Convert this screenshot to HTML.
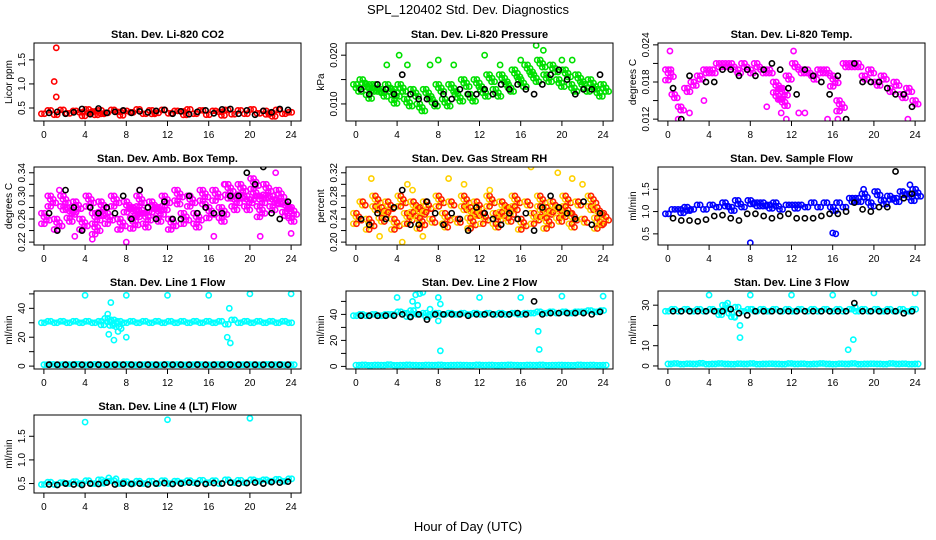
<!DOCTYPE html>
<html><head><meta charset="utf-8">
<style>
html,body{margin:0;padding:0;background:#fff;}
svg{display:block;font-family:"Liberation Sans",sans-serif;}
</style></head>
<body>
<svg id="chart" width="936" height="540" viewBox="0 0 936 540">
<rect x="0" y="0" width="936" height="540" fill="#fff"/>
<text x="468" y="14" text-anchor="middle" font-size="13">SPL_120402  Std. Dev. Diagnostics</text>
<text x="468" y="531" text-anchor="middle" font-size="13">Hour of Day (UTC)</text>
</svg>
<script>
const xTicks = [0,4,8,12,16,20,24];
const blackTimes = [0.5,1.3,2.1,2.9,3.7,4.5,5.3,6.1,6.9,7.7,8.5,9.3,10.1,10.9,11.7,12.5,13.3,14.1,14.9,15.7,16.5,17.3,18.1,18.9,19.7,20.5,21.3,22.1,22.9,23.7];
const panelTitles = ["Stan. Dev. Li-820 CO2","Stan. Dev. Li-820 Pressure","Stan. Dev. Li-820 Temp.","Stan. Dev. Amb. Box Temp.","Stan. Dev. Gas Stream RH","Stan. Dev. Sample Flow","Stan. Dev. Line 1 Flow","Stan. Dev. Line 2 Flow","Stan. Dev. Line 3 Flow","Stan. Dev. Line 4 (LT) Flow"];
const yLabels = ["Licor ppm","kPa","degrees C","degrees C","percent","ml/min","ml/min","ml/min","ml/min","ml/min"];
const yRanges = [[0.23,1.85],[0.0065,0.0225],[0.0117,0.0243],[0.215,0.35],[0.195,0.33],[0.25,2.0],[-2,52],[-2,58],[-1.5,37],[0.3,1.95]];
const yTickVals = [[0.5,1.0,1.5],[0.010,0.015,0.020],[0.012,0.015,0.018,0.021,0.024],[0.22,0.24,0.26,0.28,0.30,0.32,0.34],[0.20,0.22,0.24,0.26,0.28,0.30,0.32],[0.5,1.0,1.5],[0,10,20,30,40,50],[0,10,20,30,40,50],[0,10,20,30],[0.5,1.0,1.5]];
const yTickLabels = [["0.5","1.0","1.5"],["0.010","","0.020"],["0.012","","0.018","","0.024"],["0.22","","0.26","","0.30","","0.34"],["0.20","","0.24","","0.28","","0.32"],["0.5","1.0","1.5"],["0","","20","","40",""],["0","","20","","40",""],["0","10","","30"],["0.5","1.0","1.5"]];
const colorsA = ["#ff0000","#00e000","#ff00ff","#ff00ff","#ffd000","#0000ff","#00ffff","#00ffff","#00ffff","#00ffff"];
const colorsB = ["#ff0000","#00e000","#ff00ff","#ff00ff","#ff2000","#0000ff","#00ffff","#00ffff","#00ffff","#00ffff"];

const seriesA = [
[0.38,0.40,0.36,0.42,0.39,0.37,0.41,0.38,0.43,0.36,0.40,0.39,0.42,0.37,0.41,0.44,0.38,0.36,0.40,0.42,0.39,0.37,0.43,0.40,0.38,0.41,0.36,0.39,0.42,0.40,0.37,0.41,0.38,0.43,0.39,0.36,0.40,0.42,0.38,0.41],
[0.014,0.013,0.014,0.012,0.013,0.012,0.013,0.012,0.011,0.011,0.010,0.011,0.011,0.012,0.011,0.012,0.012,0.013,0.012,0.013,0.013,0.014,0.013,0.014,0.014,0.015,0.015,0.016,0.016,0.017,0.016,0.016,0.015,0.015,0.014,0.014,0.014,0.013,0.013,0.012],
[0.018,0.016,0.014,0.017,0.018,0.019,0.019,0.020,0.020,0.021,0.020,0.020,0.020,0.020,0.020,0.019,0.020,0.018,0.017,0.019,0.020,0.020,0.019,0.019,0.020,0.019,0.019,0.015,0.021,0.021,0.020,0.019,0.019,0.018,0.018,0.017,0.017,0.016,0.016,0.015],
[0.27,0.28,0.26,0.27,0.28,0.27,0.26,0.28,0.27,0.26,0.27,0.28,0.26,0.27,0.28,0.26,0.27,0.27,0.28,0.27,0.26,0.28,0.27,0.28,0.27,0.28,0.28,0.29,0.28,0.29,0.30,0.29,0.30,0.29,0.30,0.29,0.30,0.28,0.29,0.28],
[0.25,0.26,0.24,0.25,0.26,0.25,0.24,0.26,0.25,0.24,0.26,0.25,0.24,0.26,0.25,0.26,0.24,0.25,0.26,0.24,0.25,0.26,0.25,0.24,0.26,0.25,0.24,0.26,0.25,0.24,0.26,0.25,0.26,0.24,0.25,0.26,0.24,0.25,0.26,0.25],
[0.95,1.0,1.05,1.0,1.05,1.1,1.05,1.1,1.1,1.05,1.1,1.15,1.1,1.15,1.2,1.1,1.15,1.1,1.05,1.1,1.15,1.1,1.1,1.15,1.1,1.15,1.1,1.15,1.1,1.2,1.3,1.25,1.2,1.3,1.25,1.2,1.3,1.35,1.4,1.3],
[30,30,30,30,30,30,30,30,30,31,28,32,29,30,30,30,30,30,30,30,30,30,30,30,30,30,30,30,30,29,31,30,30,30,30,30,30,30,30,30],
[39,39,39,39,39,39,40,40,41,39,40,38,40,40,40,40,40,40,40,40,40,40,40,40,40,40,40,41,41,40,41,41,41,41,41,41,42,42,42,42],
[27,27,27,27,27,27,27,27,27,28,26,29,27,27,27,27,27,27,27,27,27,27,27,27,27,27,27,27,27,27,27,27,27,27,27,27,27,27,27,27],
[0.48,0.5,0.48,0.5,0.5,0.48,0.5,0.52,0.5,0.5,0.55,0.5,0.5,0.52,0.5,0.5,0.5,0.5,0.5,0.52,0.5,0.5,0.52,0.5,0.52,0.5,0.52,0.52,0.5,0.52,0.52,0.55,0.52,0.52,0.55,0.52,0.55,0.55,0.55,0.55]
];
const seriesB = [
[0.33,0.45,0.34,0.46,0.35,0.44,0.33,0.47,0.34,0.45,0.35,0.46,0.33,0.44,0.36,0.47,0.34,0.45,0.33,0.46,0.35,0.44,0.34,0.47,0.33,0.45,0.36,0.44,0.34,0.46,0.35,0.45,0.33,0.47,0.34,0.44,0.30,0.46,0.33,0.34],
[0.012,0.015,0.011,0.014,0.011,0.014,0.010,0.014,0.009,0.013,0.008,0.013,0.009,0.014,0.009,0.014,0.010,0.015,0.010,0.015,0.011,0.016,0.011,0.016,0.012,0.017,0.013,0.018,0.014,0.019,0.014,0.018,0.013,0.017,0.012,0.016,0.012,0.015,0.011,0.014],
[0.020,0.015,0.013,0.016,0.017,0.018,0.020,0.019,0.021,0.020,0.021,0.019,0.021,0.019,0.021,0.020,0.019,0.015,0.014,0.018,0.021,0.019,0.020,0.018,0.019,0.020,0.017,0.013,0.020,0.020,0.021,0.018,0.020,0.017,0.019,0.016,0.018,0.015,0.017,0.014],
[0.25,0.30,0.24,0.30,0.25,0.29,0.24,0.30,0.23,0.29,0.25,0.30,0.24,0.29,0.24,0.30,0.24,0.29,0.25,0.30,0.24,0.31,0.25,0.30,0.24,0.31,0.26,0.31,0.25,0.32,0.27,0.32,0.27,0.33,0.26,0.32,0.27,0.31,0.26,0.25],
[0.23,0.27,0.22,0.28,0.23,0.27,0.22,0.28,0.23,0.27,0.22,0.27,0.23,0.28,0.22,0.27,0.23,0.28,0.22,0.27,0.23,0.28,0.22,0.27,0.23,0.28,0.22,0.27,0.23,0.28,0.22,0.27,0.23,0.28,0.22,0.27,0.23,0.28,0.22,0.23],
[0.9,1.05,0.95,1.1,1.0,1.15,1.0,1.15,1.05,1.2,1.0,1.25,1.05,1.25,1.05,1.2,1.05,1.2,1.0,1.15,1.05,1.15,1.05,1.2,1.05,1.2,1.0,1.2,1.05,1.3,1.15,1.4,1.1,1.45,1.15,1.35,1.2,1.45,1.2,1.5],
[29,31,29,31,29,31,29,31,30,27,33,26,31,29,31,29,31,29,31,29,31,29,31,29,31,29,31,29,31,28,32,29,31,29,31,29,31,29,31,30],
[38,40,38,40,38,40,38,42,37,43,39,41,39,41,39,41,39,41,39,41,39,41,39,41,39,41,39,41,40,42,39,42,40,42,40,42,41,43,41,43],
[26,28,26,28,26,28,26,28,25,30,24,28,26,28,26,28,26,28,26,28,26,28,26,28,26,28,26,28,26,28,26,28,26,28,26,28,26,28,26,28],
[0.45,0.53,0.46,0.52,0.45,0.54,0.45,0.56,0.46,0.58,0.48,0.56,0.46,0.54,0.47,0.55,0.46,0.55,0.47,0.56,0.47,0.55,0.47,0.56,0.48,0.57,0.48,0.56,0.48,0.58,0.49,0.57,0.49,0.58,0.49,0.58,0.5,0.59,0.5,0.6]
];
const lowCyan = [1,1.2,0.9,1.1,1,1.3,0.9,1,1.2,1,0.9,1.1,1,1.2,0.9,1,1.1,1,0.9,1.2,1,1.1,0.9,1,1.2,1,0.9,1.1,1,1.2,0.9,1,1.1,1,0.9,1.2,1,1.1,0.9,1];
const outlierTimes = [
[1.2,1.0,1.2],
[4.2,5.0,7.2,8.0,9.5,12.5,14.0,16.0,17.5,18.2,20.0,21.0,3.0],
[0.2,0.3,1.0,2.1,3.5,11.0,11.5,12.7,13.3,14.0,15.5,16.5,17.0,9.6,23.3,12.2],
[1.5,3.0,4.7,8.0,9.3,16.5,17.5,21.0,22.5,24.0],
[1.5,2.3,4.5,5.0,6.5,9.0,10.5,13.0,17.0,19.6,21.0,22.0,5.5],
[8.0,16.0,16.3,19.0,23.5],
[4,6.2,6.5,6.3,6.8,7.2,7.5,8,8,12,16,17.8,18,18.1,20,24],
[4,5.5,5.8,6.2,6.5,6,8,8.2,8,8.2,12,16,17.7,17.8,20,24,7.2],
[4,5.8,6.0,6.5,7,7.0,8,8.2,12,16,17.5,18,18.2,20,24],
[4,12,20,6.3,7]
];
const outlierValues = [
[1.75,1.05,0.73],
[0.020,0.018,0.018,0.019,0.018,0.020,0.018,0.019,0.022,0.021,0.019,0.019,0.018],
[0.023,0.020,0.012,0.013,0.015,0.013,0.012,0.013,0.013,0.011,0.012,0.012,0.011,0.014,0.012,0.023],
[0.31,0.23,0.225,0.22,0.31,0.23,0.32,0.23,0.34,0.235],
[0.31,0.21,0.20,0.30,0.21,0.31,0.30,0.29,0.33,0.32,0.31,0.30,0.29],
[0.3,0.52,0.5,1.5,1.6],
[49,36,44,22,18,24,26,49,20,49,49,20,40,16,50,50],
[53,50,55,56,57,47,53,48,35,12,53,53,27,13,54,54,44],
[35,31,28.5,24,20,14,35,28,35,35,8,13,29,36,36],
[1.8,1.85,1.88,0.62,0.6]
];
const blackValues = [
[0.40,0.42,0.38,0.41,0.48,0.37,0.49,0.40,0.42,0.45,0.40,0.43,0.41,0.44,0.46,0.38,0.43,0.37,0.42,0.45,0.39,0.47,0.48,0.38,0.45,0.36,0.44,0.41,0.48,0.46],
[0.013,0.012,0.014,0.013,0.012,0.016,0.012,0.011,0.011,0.010,0.012,0.011,0.013,0.012,0.012,0.013,0.012,0.014,0.013,0.014,0.013,0.012,0.014,0.016,0.017,0.015,0.012,0.013,0.013,0.016],
[0.017,0.012,0.019,0.011,0.018,0.018,0.020,0.020,0.019,0.020,0.019,0.020,0.021,0.020,0.017,0.016,0.020,0.019,0.018,0.016,0.019,0.012,0.021,0.018,0.018,0.018,0.017,0.016,0.016,0.014],
[0.27,0.24,0.31,0.28,0.24,0.28,0.27,0.28,0.27,0.30,0.26,0.31,0.28,0.26,0.29,0.26,0.26,0.30,0.27,0.28,0.27,0.27,0.30,0.30,0.34,0.32,0.35,0.27,0.26,0.29],
[0.24,0.23,0.25,0.24,0.26,0.29,0.23,0.23,0.27,0.25,0.23,0.25,0.24,0.22,0.26,0.25,0.24,0.23,0.25,0.24,0.25,0.22,0.26,0.28,0.26,0.25,0.24,0.27,0.23,0.25],
[0.85,0.8,0.8,0.78,0.82,0.9,0.92,0.85,0.8,0.95,0.95,0.9,0.85,0.9,0.95,0.85,0.85,0.85,0.9,0.95,0.95,1.0,1.2,1.05,1.0,1.1,1.1,1.9,1.3,1.4],
[1,1,1,1,1,1,1,1,1,1,1,1,1,1,1,1,1,1,1,1,1,1,1,1,1,1,1,1,1,1],
[39,39,39,39,39,40,38,40,36,40,40,40,40,39,40,40,40,40,40,41,40,50,40,41,41,41,41,41,40,42],
[27,27,27,27,27,27,27,28,26,25,27,27,27,27,27,27,27,27,27,27,27,27,31,27,27,27,27,27,26,27],
[0.48,0.47,0.5,0.48,0.47,0.5,0.49,0.52,0.48,0.5,0.49,0.5,0.48,0.5,0.51,0.49,0.5,0.52,0.5,0.49,0.51,0.5,0.52,0.5,0.51,0.52,0.5,0.53,0.52,0.54]
];
const hasLowBand = [false,false,false,false,false,false,true,true,true,false];

const NS = "http://www.w3.org/2000/svg";
const svg = document.getElementById('chart');
function mk(tag, attrs, parent){ const e=document.createElementNS(NS,tag); for(const k in attrs) e.setAttribute(k,attrs[k]); parent.appendChild(e); return e; }
const colX=[34,346,658], rowY=[43,167,291,415], W=267, H=78;
const nA = seriesA[0].length;

panelTitles.forEach((title,p)=>{
  const bx=colX[p%3], by=rowY[Math.floor(p/3)];
  const g=mk('g',{},svg);
  
  
  const [y0,y1]=yRanges[p];
  const xs=h=>bx+W*(h+0.96)/25.92;
  const ys=v=>by+H-(v-y0)/(y1-y0)*H;
  const t=mk('text',{x:bx+W/2,y:by-5,'text-anchor':'middle','font-size':11,'font-weight':'bold'},g);
  t.textContent=title;
  
  
  xTicks.forEach(h=>{
    mk('line',{x1:xs(h),x2:xs(h),y1:by+H,y2:by+H+5,stroke:'#000'},g);
    const l=mk('text',{x:xs(h),y:by+H+17,'text-anchor':'middle','font-size':10},g);
    l.textContent=h;
    
    
  });
  yTickVals[p].forEach((v,i)=>{
    const y=ys(v);
    mk('line',{x1:bx-5,x2:bx,y1:y,y2:y,stroke:'#000'},g);
    if(yTickLabels[p][i]){
      const l=mk('text',{x:bx-9,y:y,'text-anchor':'middle','font-size':10,transform:`rotate(-90 ${bx-9} ${y})`},g);
      l.textContent=yTickLabels[p][i];
      
      
    }
  });
  const yl=mk('text',{x:bx-22,y:by+H/2,'text-anchor':'middle','font-size':10,transform:`rotate(-90 ${bx-22} ${by+H/2})`},g);
  yl.textContent=yLabels[p];
  
  
  const cid='clip'+p;
  const cp=mk('clipPath',{id:cid},g); mk('rect',{x:bx,y:by,width:W,height:H},cp);
  const pts=mk('g',{'clip-path':`url(#${cid})`,fill:'none','stroke-width':1.6},g);
  const dotPx=(x,y,c,name)=>{
    const e=mk('circle',{cx:x,cy:y,r:2.6,stroke:c},pts);
    
    
  };
  const dot=(h,v,c,name)=>dotPx(xs(h),ys(v),c,name);
  const band=(h,va,vb,c,name)=>{
    const ya=ys(va), yb=ys(vb);
    const lo=Math.min(ya,yb), hi=Math.max(ya,yb);
    let k=0;
    for(let y=lo;y<=hi+0.01;y+=3.5){ dotPx(xs(h)+((k%3)-1)*2.5,y,c,name); k++; }
  };
  for(let i=0;i<nA;i++){
    const h=i*24/(nA-1);
    if(hasLowBand[p]){ dot(h,lowCyan[i],colorsA[p],'low-band-point'); dot(h+0.3,lowCyan[i],colorsA[p],'low-band-point'); }
    band(h,seriesA[p][i],seriesB[p][i],colorsA[p],'series-a-point');
    band(h+0.3,seriesB[p][i],seriesA[p][i],colorsB[p],'series-b-point');
  }
  outlierTimes[p].forEach((h,i)=>dot(h,outlierValues[p][i],colorsA[p],'outlier-point'));
  blackTimes.forEach((h,i)=>dot(h,blackValues[p][i],'#000','black-point'));
  const frame=mk('rect',{x:bx,y:by,width:W,height:H,fill:'none',stroke:'#000'},g);
  
  
});
</script>
</body></html>
